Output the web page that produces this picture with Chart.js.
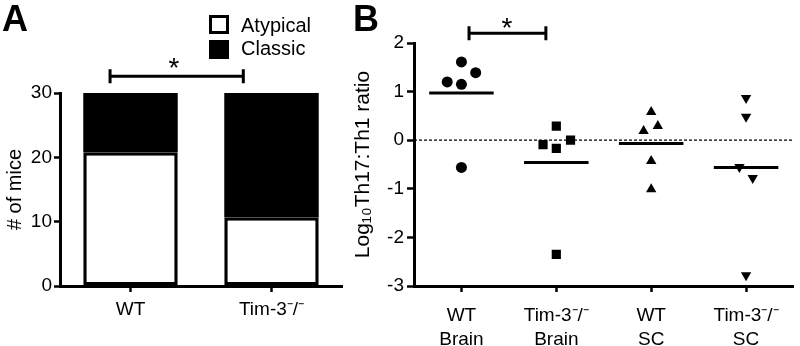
<!DOCTYPE html>
<html>
<head>
<meta charset="utf-8">
<script src="https://cdn.jsdelivr.net/npm/chart.js@4"></script>
<style>
  body { margin: 0; background: #fff; font-family: "Liberation Sans", Arial, sans-serif; color: #000; }
  #wrap { position: relative; width: 800px; height: 346px; overflow: hidden; }
  canvas { position: absolute; top: 0; }
  .letter { position: absolute; font-weight: bold; font-size: 36px; line-height: 36px; }
  .star { position: absolute; width: 40px; text-align: center; font-size: 28px; line-height: 28px; }
  .lg-box { position: absolute; width: 14px; height: 13px; border: 3.5px solid #000; }
  .lg-text { position: absolute; font-size: 20px; line-height: 20px; }
</style>
</head>
<body>
<div id="wrap">
  <canvas id="panelA" width="350" height="346" style="left:0"></canvas>
  <canvas id="panelB" width="450" height="346" style="left:350px"></canvas>
  <div class="letter" style="left:2px;top:1px">A</div>
  <div class="letter" style="left:353px;top:1px">B</div>
  <div class="star" style="left:154px;top:54px">*</div>
  <div class="star" style="left:487px;top:14px">*</div>
  <div class="lg-box" style="left:209px;top:15px;background:#fff"></div>
  <div class="lg-box" style="left:209px;top:40px;background:#000"></div>
  <div class="lg-text" style="left:241px;top:15px">Atypical</div>
  <div class="lg-text" style="left:241px;top:38px">Classic</div>
</div>
<script>
// panel A: disease type counts
const groupsA = ["WT", "Tim-3⁻/⁻"];
const atypical = [20.8, 10.7];
const classic = [9.2, 19.3];

// panel B: log10 Th17:Th1 ratio per mouse
const groupsB = [["WT", "Brain"], ["Tim-3⁻/⁻", "Brain"], ["WT", "SC"], ["Tim-3⁻/⁻", "SC"]];
const wtBrain = [1.61, 1.39, 1.20, 1.15, -0.56];
const wtBrainX = [0, 0.15, -0.15, 0, 0];
const timBrain = [0.29, -0.09, -0.17, 0.0, -2.35];
const timBrainX = [1, 0.86, 1, 1.15, 1];
const wtSC = [0.58, 0.19, 0.29, -0.43, -1.01];
const wtSCX = [2, 1.92, 2.07, 2, 2];
const timSC = [0.87, 0.48, -0.55, -0.78, -2.78];
const timSCX = [3, 3, 2.93, 3.07, 3];
const groupMeans = [0.97, -0.46, -0.07, -0.56];

Chart.defaults.font.family = "'Liberation Sans', Arial, sans-serif";
Chart.defaults.color = "#000";

// significance bracket drawn against the chart's own scales
const bracketPlugin = {
  id: "bracket",
  afterDraw(chart, args, opts) {
    const { ctx, scales: { x, y } } = chart;
    const x1 = x.getPixelForValue(opts.from);
    const x2 = x.getPixelForValue(opts.to);
    const yy = y.getPixelForValue(opts.level);
    ctx.save();
    ctx.strokeStyle = "#000";
    ctx.lineWidth = 3;
    ctx.beginPath();
    ctx.moveTo(x1, yy); ctx.lineTo(x2, yy);
    ctx.moveTo(x1, yy - 7); ctx.lineTo(x1, yy + 7);
    ctx.moveTo(x2, yy - 7); ctx.lineTo(x2, yy + 7);
    ctx.stroke();
    ctx.restore();
  }
};

const axisGrid = { display: true, drawOnChartArea: false, drawTicks: true, tickLength: 7, tickWidth: 2.5, color: "#000" };
const axisBorder = { display: true, color: "#000", width: 3 };

new Chart(document.getElementById("panelA"), {
  type: "bar",
  data: {
    labels: groupsA,
    datasets: [
      { label: "Atypical", data: atypical, backgroundColor: "#fff", borderColor: "#000", borderWidth: 3.5, borderSkipped: false },
      { label: "Classic", data: classic, backgroundColor: "#000", borderWidth: 0 }
    ]
  },
  options: {
    responsive: false,
    animation: false,
    devicePixelRatio: 1,
    layout: { padding: { top: 93, right: 8, left: 0, bottom: 0 } },
    datasets: { bar: { barPercentage: 0.67, categoryPercentage: 1 } },
    plugins: {
      legend: { display: false },
      tooltip: { enabled: false },
      bracket: { from: -0.145, to: 0.80, level: 32.6 }
    },
    scales: {
      x: {
        stacked: true,
        grid: { ...axisGrid, offset: false, tickLength: 6 },
        border: axisBorder,
        ticks: { font: { size: 19 }, padding: 6 },
        afterFit: (s) => { s.height = 60; }
      },
      y: {
        stacked: true,
        min: 0, max: 30,
        grid: { ...axisGrid, tickLength: 6 },
        border: axisBorder,
        ticks: { stepSize: 10, font: { size: 19 }, padding: 2 },
        title: { display: true, text: "# of mice", font: { size: 20 }, padding: 3 },
        afterFit: (s) => { s.width = 60; }
      }
    }
  },
  plugins: [bracketPlugin]
});

const pts = (xs, ys) => ys.map((v, i) => ({ x: xs[i], y: v }));
const meanLine = (i) => [{ x: i - 0.34, y: groupMeans[i] }, { x: i + 0.34, y: groupMeans[i] }];
const lineStyle = { showLine: true, pointRadius: 0, borderColor: "#000", borderWidth: 3 };
const markStyle = { backgroundColor: "#000", borderColor: "#000", borderWidth: 0 };

new Chart(document.getElementById("panelB"), {
  type: "scatter",
  data: {
    datasets: [
      { data: pts(wtBrainX, wtBrain), pointStyle: "circle", pointRadius: 5.5, ...markStyle },
      { data: pts(timBrainX, timBrain), pointStyle: "rect", pointRadius: 6.5, ...markStyle },
      { data: pts(wtSCX, wtSC), pointStyle: "triangle", pointRadius: 6, ...markStyle },
      { data: pts(timSCX, timSC), pointStyle: "triangle", rotation: 180, pointRadius: 6, ...markStyle },
      { data: meanLine(0), ...lineStyle },
      { data: meanLine(1), ...lineStyle },
      { data: meanLine(2), ...lineStyle },
      { data: meanLine(3), ...lineStyle },
      { data: [{ x: -0.5, y: 0 }, { x: 3.5, y: 0 }], showLine: true, pointRadius: 0, borderColor: "#000", borderWidth: 1.2, borderDash: [3, 2] }
    ]
  },
  options: {
    responsive: false,
    animation: false,
    devicePixelRatio: 1,
    layout: { padding: { top: 43, right: 0, left: 0, bottom: 0 } },
    plugins: {
      legend: { display: false },
      tooltip: { enabled: false },
      bracket: { from: 0.08, to: 0.89, level: 2.2 }
    },
    scales: {
      x: {
        type: "linear",
        min: -0.5, max: 3.5,
        grid: { ...axisGrid, tickLength: 6 },
        border: axisBorder,
        afterBuildTicks: (s) => { s.ticks = groupsB.map((g, i) => ({ value: i })); },
        ticks: { font: { size: 19, lineHeight: 1.3 }, padding: 11, callback: (v) => groupsB[v] },
        afterFit: (s) => { s.height = 60; }
      },
      y: {
        min: -3, max: 2,
        grid: axisGrid,
        border: axisBorder,
        ticks: { stepSize: 1, font: { size: 19 }, padding: 3 },
        title: { display: true, text: "Log₁₀Th17:Th1 ratio", font: { size: 21 }, padding: 1 },
        afterFit: (s) => { s.width = 64; }
      }
    }
  },
  plugins: [bracketPlugin]
});
</script>
</body>
</html>
